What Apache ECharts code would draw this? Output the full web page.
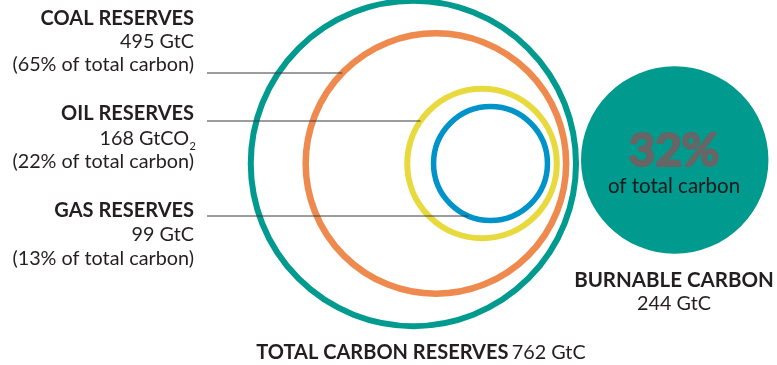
<!DOCTYPE html>
<html>
<head>
<meta charset="utf-8">
<script src="https://cdn.jsdelivr.net/npm/echarts@6/dist/echarts.min.js"></script>
<style>
  html, body { margin: 0; padding: 0; background: #ffffff; }
  #chart { width: 777px; height: 365px; }
</style>
</head>
<body>
<div id="chart"></div>
<script>
// ---- data ----
const categories = ['Total carbon reserves', 'Coal reserves', 'Oil reserves', 'Gas reserves', 'Burnable carbon'];
const gtc = [762, 495, 168, 99, 244];            // GtC (oil labelled GtCO2 in source)
const shareOfTotal = [100, 65, 22, 13, 32];        // % of total carbon
const units = ['GtC', 'GtC', 'GtCO', 'GtC', 'GtC'];

// ---- layout / style ----
const W = 777, H = 365;
const PX = 6;                        // pixels per unit of sqrt(GtC)
const RIGHT = 579 / PX;              // right edge of the outer ring (units)
const CY = 163.5 / PX;               // vertical centre of nested rings
const NEST_GAP = 1.6;                // gap between nested ring right edges (units)
const BURN_GAP = 2 / PX;
const BURN_CY = 160 / PX;
const colors = ['#009A8E', '#EE8A4E', '#E8D93C', '#0093C9', '#009A8E'];
const lineWidths = [6, 6.5, 6, 5.5, 0];
const leaderY = [null, 73, 121, 216, null];   // pixel rows of label leader lines
const LEADER_X0 = 207;

const FONT = 'Lato, sans-serif';
const TXT = '#231F20';

// build positions from values
const seriesData = gtc.map((v, i) => {
  const r = Math.sqrt(v);
  let cx, cy;
  if (i < 4) { cx = RIGHT - i * NEST_GAP - r; cy = CY; }
  else { cx = RIGHT + BURN_GAP + r; cy = BURN_CY; }
  return [cx, cy, v, i];
});

function renderItem(params, api) {
  const cx = api.value(0), cy = api.value(1), v = api.value(2), i = api.value(3);
  const c = api.coord([cx, cy]);
  const r = api.size([Math.sqrt(v), 0])[0];
  const children = [];
  if (i < 4) {
    const rs = r - lineWidths[i] / 2;
    children.push({
      type: 'circle',
      shape: { cx: c[0], cy: c[1], r: rs },
      style: { fill: 'none', stroke: colors[i], lineWidth: lineWidths[i] }
    });
    if (leaderY[i] != null) {
      const dy = leaderY[i] - c[1];
      const xe = c[0] - Math.sqrt(Math.max(rs * rs - dy * dy, 0));
      children.push({
        type: 'line',
        z2: 10,
        shape: { x1: LEADER_X0, y1: leaderY[i], x2: xe, y2: leaderY[i] },
        style: { stroke: '#3a3a3a', lineWidth: 1 }
      });
    }
  } else {
    children.push({
      type: 'circle',
      shape: { cx: c[0], cy: c[1], r: r },
      style: { fill: colors[i] }
    });
  }
  return { type: 'group', children: children };
}

function txt(x, y, text, size, weight, align, color, border) {
  const el = {
    type: 'text', x: x, y: y, z: 100,
    style: {
      text: text, fontFamily: FONT, fontSize: size, fontWeight: weight || 'normal',
      fill: color || TXT, align: align || 'right', verticalAlign: 'middle'
    }
  };
  if (border) {
    el.style.stroke = color;
    el.style.lineWidth = border;
  }
  return el;
}

const LX = 194;
const B = 20, R = 19.8;
const graphics = [
  txt(LX, 18.5, 'COAL RESERVES', B, 'bold'),
  txt(LX, 42, gtc[1] + ' ' + units[1], R),
  txt(LX, 65, '(' + shareOfTotal[1] + '% of total carbon)', R),
  txt(LX, 113.5, 'OIL RESERVES', B, 'bold'),
  txt(LX - 5, 138.5, gtc[2] + ' ' + units[2], R),
  txt(LX - 4.5, 146, '2', 11, 'normal', 'left'),
  txt(LX, 161.5, '(' + shareOfTotal[2] + '% of total carbon)', R),
  txt(LX, 210.5, 'GAS RESERVES', B, 'bold'),
  txt(LX, 234.5, gtc[3] + ' ' + units[3], R),
  txt(LX, 258.5, '(' + shareOfTotal[3] + '% of total carbon)', R),
  txt(674, 151, shareOfTotal[4] + '%', 46, 'bold', 'center', '#666666', 2.2),
  txt(674, 186.5, 'of total carbon', 20.5, 'normal', 'center', '#1a1a1a'),
  txt(674, 280.5, 'BURNABLE CARBON', B + 0.5, 'bold', 'center'),
  txt(674, 303.5, gtc[4] + ' ' + units[4], R, 'normal', 'center'),
  {
    type: 'text', x: 421, y: 352.5, z: 100,
    style: {
      text: '{b|TOTAL CARBON RESERVES} {n|' + gtc[0] + ' ' + units[0] + '}',
      align: 'center', verticalAlign: 'middle',
      rich: {
        b: { fontFamily: FONT, fontSize: B, fontWeight: 'bold', fill: TXT },
        n: { fontFamily: FONT, fontSize: R, fill: TXT }
      }
    }
  }
];

const chart = echarts.init(document.getElementById('chart'), null, { renderer: 'canvas' });
chart.setOption({
  animation: false,
  backgroundColor: '#ffffff',
  grid: { left: 0, right: 0, top: 0, bottom: 0 },
  xAxis: { type: 'value', min: 0, max: W / PX, show: false },
  yAxis: { type: 'value', min: 0, max: H / PX, inverse: true, show: false },
  series: [{
    type: 'custom',
    name: 'Carbon',
    renderItem: renderItem,
    data: seriesData,
    encode: { x: 0, y: 1, itemName: 3 },
    clip: false
  }],
  graphic: graphics
});
</script>
</body>
</html>
